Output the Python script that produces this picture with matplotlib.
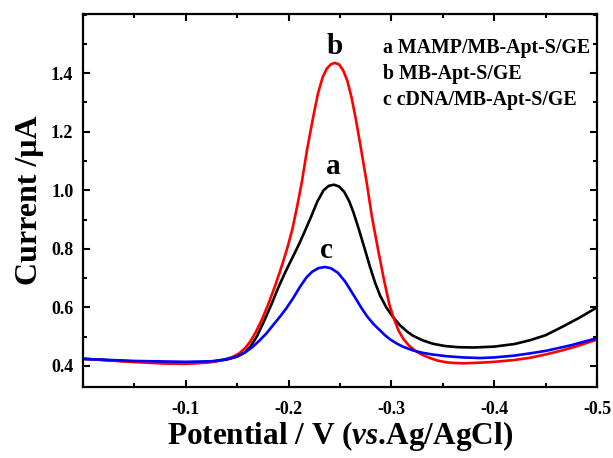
import matplotlib
matplotlib.use('Agg')
import matplotlib.pyplot as plt
from matplotlib.ticker import MultipleLocator, FixedLocator

plt.rcParams['font.family'] = 'Liberation Serif'
plt.rcParams['font.weight'] = 'bold'
plt.rcParams['axes.unicode_minus'] = False
plt.rcParams['mathtext.fontset'] = 'custom'
plt.rcParams['mathtext.it'] = 'Liberation Serif:italic:bold'
plt.rcParams['mathtext.rm'] = 'Liberation Serif:bold'

# curve b  MB-Apt-S/GE (red)
xb = [0.0, -0.02, -0.05, -0.08, -0.10, -0.12, -0.135, -0.145, -0.152, -0.158, -0.163, -0.168,
      -0.174, -0.181, -0.187, -0.193, -0.1985, -0.2035, -0.208, -0.2127, -0.218, -0.224,
      -0.2285, -0.233, -0.237, -0.241, -0.245, -0.249, -0.253, -0.257, -0.261, -0.265,
      -0.270, -0.276, -0.281, -0.287, -0.293, -0.298, -0.302, -0.307, -0.312, -0.317,
      -0.323, -0.33, -0.3375, -0.345, -0.354, -0.362, -0.37, -0.386, -0.40, -0.419, -0.435,
      -0.451, -0.465, -0.48, -0.5]
yb = [0.425, 0.420, 0.413, 0.408, 0.407, 0.411, 0.419, 0.43, 0.443, 0.462, 0.485, 0.515,
      0.558, 0.618, 0.675, 0.738, 0.80, 0.865, 0.94, 1.025, 1.14, 1.252,
      1.33, 1.385, 1.415, 1.43, 1.435, 1.43, 1.41, 1.375, 1.32, 1.25,
      1.15, 1.025, 0.91, 0.797, 0.69, 0.61, 0.565, 0.52, 0.49, 0.47,
      0.452, 0.438, 0.427, 0.418, 0.412, 0.41, 0.409, 0.411, 0.414, 0.42, 0.428,
      0.44, 0.452, 0.467, 0.49]

# curve a  MAMP/MB-Apt-S/GE (black)
xa = [0.0, -0.05, -0.10, -0.125, -0.14, -0.15, -0.157, -0.163, -0.169, -0.176, -0.1835,
      -0.19, -0.197, -0.204, -0.21, -0.216, -0.222, -0.228, -0.234, -0.239, -0.244, -0.249,
      -0.254, -0.259, -0.263, -0.268, -0.274, -0.279, -0.284, -0.289, -0.295, -0.302,
      -0.308, -0.315, -0.321, -0.33, -0.34, -0.352, -0.365, -0.38, -0.40, -0.42, -0.435,
      -0.45, -0.467, -0.483, -0.5]
ya = [0.424, 0.415, 0.410, 0.414, 0.422, 0.432, 0.445, 0.467, 0.5, 0.552, 0.612,
      0.668, 0.722, 0.772, 0.815, 0.862, 0.911, 0.962, 1.0, 1.015, 1.019, 1.013,
      0.995, 0.962, 0.925, 0.87, 0.80, 0.74, 0.685, 0.64, 0.60, 0.565,
      0.54, 0.518, 0.503, 0.488, 0.476, 0.468, 0.464, 0.463, 0.466, 0.475, 0.488,
      0.505, 0.535, 0.565, 0.60]

# curve c  cDNA/MB-Apt-S/GE (blue)
xc = [0.0, -0.05, -0.10, -0.125, -0.14, -0.1495, -0.158, -0.165, -0.172, -0.1786, -0.185,
      -0.192, -0.198, -0.2045, -0.211, -0.2175, -0.223, -0.229, -0.235, -0.241, -0.248,
      -0.255, -0.26, -0.266, -0.271, -0.276, -0.282, -0.289, -0.294, -0.299, -0.305,
      -0.311, -0.321, -0.33, -0.34, -0.354, -0.37, -0.386, -0.40, -0.419, -0.435, -0.451,
      -0.475, -0.5]
yc = [0.424, 0.417, 0.414, 0.416, 0.423, 0.432, 0.447, 0.465, 0.488, 0.512, 0.54,
      0.57, 0.598, 0.632, 0.67, 0.703, 0.722, 0.734, 0.738, 0.734, 0.718,
      0.688, 0.66, 0.626, 0.597, 0.571, 0.545, 0.521, 0.504, 0.49, 0.477,
      0.466, 0.453, 0.445, 0.439, 0.433, 0.429, 0.427, 0.429, 0.435, 0.443, 0.452,
      0.471, 0.495]

legend_lines = ['a MAMP/MB-Apt-S/GE', 'b MB-Apt-S/GE', 'c cDNA/MB-Apt-S/GE']

fig = plt.figure(figsize=(6.13, 4.58), dpi=100)
ax = fig.add_axes([0.1354, 0.155, 0.8386, 0.8144])

ax.plot(xa, ya, color='black', lw=1.9, solid_joinstyle='round')
ax.plot(xb, yb, color='#ff0000', lw=1.9, solid_joinstyle='round')
ax.plot(xc, yc, color='#0000ff', lw=1.9, solid_joinstyle='round')

ax.set_xlim(0, -0.5)
ax.set_ylim(0.328, 1.602)
ax.xaxis.set_major_locator(FixedLocator([-0.1, -0.2, -0.3, -0.4, -0.5]))
ax.xaxis.set_minor_locator(MultipleLocator(0.05))
ax.yaxis.set_major_locator(FixedLocator([0.4, 0.6, 0.8, 1.0, 1.2, 1.4]))
ax.yaxis.set_minor_locator(MultipleLocator(0.1))
ax.tick_params(which='both', direction='in', top=True, right=True, labelsize=13, width=1.5)
ax.tick_params(which='major', length=5)
ax.tick_params(which='minor', length=3)
ax.tick_params(axis='x', which='major', pad=10)
ax.tick_params(axis='y', which='major', pad=7)
for s in ax.spines.values():
    s.set_linewidth(1.6)

ax.set_xlabel(r'Potential / V ($vs$.Ag/AgCl)', fontsize=22.5, fontweight='bold', labelpad=1)
ax.set_ylabel('Current /μA', fontsize=23, fontweight='bold', labelpad=5)

ax.text(-0.245, 1.49, 'b', fontsize=21, fontweight='bold', ha='center', va='center')
ax.text(-0.243, 1.08, 'a', fontsize=21, fontweight='bold', ha='center', va='center')
ax.text(-0.237, 0.795, 'c', fontsize=21, fontweight='bold', ha='center', va='center')

for i, t in enumerate(legend_lines):
    ax.text(0.584, 0.909 - i * 0.07, t, transform=ax.transAxes, fontsize=14.3,
            fontweight='bold', ha='left', va='center')

fig.savefig('out.png', dpi=100)
